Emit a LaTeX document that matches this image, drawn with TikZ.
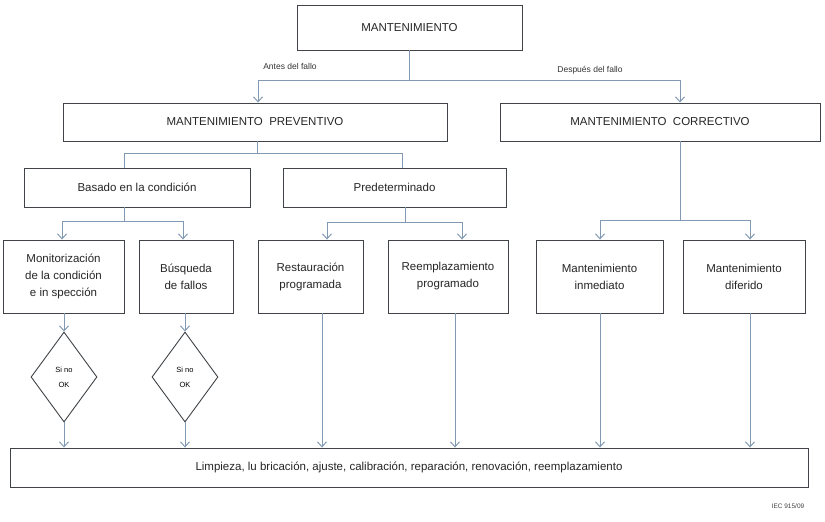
\documentclass[tikz,border=0pt]{standalone}
\usepackage{fontspec}
\setmainfont{Liberation Sans}
\usetikzlibrary{shapes.geometric,arrows.meta}
\definecolor{ln}{HTML}{8299B4}
\definecolor{bx}{HTML}{404448}
\begin{document}
\begin{tikzpicture}[x=1pt,y=-1pt,
 box/.style={draw=bx,line width=0.9pt,fill=white,inner sep=0pt,font=\fontsize{11.5}{17}\selectfont,text=black!85,align=center},
 con/.style={draw=ln,line width=1pt},
 arr/.style={con,-{Straight Barb[length=5pt,width=9pt]}},
 dia/.style={draw=bx,line width=0.9pt,diamond,fill=white,minimum width=66pt,minimum height=90pt,inner sep=0pt,font=\fontsize{7.5}{15}\selectfont,align=center},
 lbl/.style={font=\fontsize{8.5}{9}\selectfont,text=black!80}]
\useasboundingbox (0,0) rectangle (825,522);
\newcommand{\bxat}[5]{\node[box,minimum width={#4-#2},minimum height={#5-#3}] (#1) at ({(#2+#4)/2},{(#3+#5)/2})}
\bxat{m}{297}{5}{522}{50} {MANTENIMIENTO};
\bxat{pv}{63}{103}{447}{141} {MANTENIMIENTO\ \ PREVENTIVO};
\bxat{co}{500}{103}{820}{141} {MANTENIMIENTO\ \ CORRECTIVO};
\bxat{ba}{24}{168}{250}{207} {Basado en la condición};
\bxat{pr}{283}{168}{506}{207} {Predeterminado};
\bxat{mo}{3}{240}{124}{313} {Monitorización\\de la condición\\e in specci\'on};
\bxat{bu}{139}{240}{233}{313} {Búsqueda\\de fallos};
\bxat{re}{258}{240}{363}{313} {Restauración\\programada};
\bxat{rp}{388}{240}{508}{313} {Reemplazamiento\\programado};
\bxat{in}{536}{240}{663}{313} {Mantenimiento\\inmediato};
\bxat{di}{683}{240}{805}{313} {Mantenimiento\\diferido};
\bxat{li}{10}{448}{808}{487} {Limpieza, lu bricación, ajuste, calibración, reparación, renovación, reemplazamiento};
\node[dia] (d1) at (64,377) {Si no\\OK};
\node[dia] (d2) at (185,377) {Si no\\OK};
\node[lbl] (l1) at (290,66) {Antes del fallo};
\node[lbl] (l2) at (590,70) {Después del fallo};
\node[font=\fontsize{6.5}{8}\selectfont,text=black!75] (iec) at (788,506) {IEC 915/09};
% level 1
\coordinate (j1) at (409,80);
\draw[con] (m.south -| j1) -- (j1);
\draw[arr] (j1) -| (pv.north -| 258,0);
\draw[arr] (j1) -| (co.north -| 680,0);
% preventive split
\coordinate (j2) at (257,153);
\draw[con] (pv.south -| j2) -- (j2);
\draw[con] (j2) -| (ba.north -| 124,0);
\draw[con] (j2) -| (pr.north -| 402,0);
% basado
\coordinate (j3) at (124,221);
\draw[con] (ba.south -| j3) -- (j3);
\draw[arr] (j3) -| (mo.north -| 62,0);
\draw[arr] (j3) -| (bu.north -| 183,0);
% predeterminado
\coordinate (j4) at (405,222);
\draw[con] (pr.south -| j4) -- (j4);
\draw[arr] (j4) -| (re.north -| 327,0);
\draw[arr] (j4) -| (rp.north -| 462,0);
% correctivo
\coordinate (j5) at (680,220);
\draw[con] (co.south -| j5) -- (j5);
\draw[arr] (j5) -| (in.north -| 600,0);
\draw[arr] (j5) -| (di.north -| 750,0);
% to bottom
\draw[arr] (mo.south -| d1) -- (d1.north);
\draw[arr] (bu.south -| d2) -- (d2.north);
\draw[arr] (d1.south) -- (li.north -| d1);
\draw[arr] (d2.south) -- (li.north -| d2);
\draw[arr] (re.south -| 322,0) -- (li.north -| 322,0);
\draw[arr] (rp.south -| 455,0) -- (li.north -| 455,0);
\draw[arr] (in.south -| 600,0) -- (li.north -| 600,0);
\draw[arr] (di.south -| 750,0) -- (li.north -| 750,0);
\end{tikzpicture}
\end{document}
